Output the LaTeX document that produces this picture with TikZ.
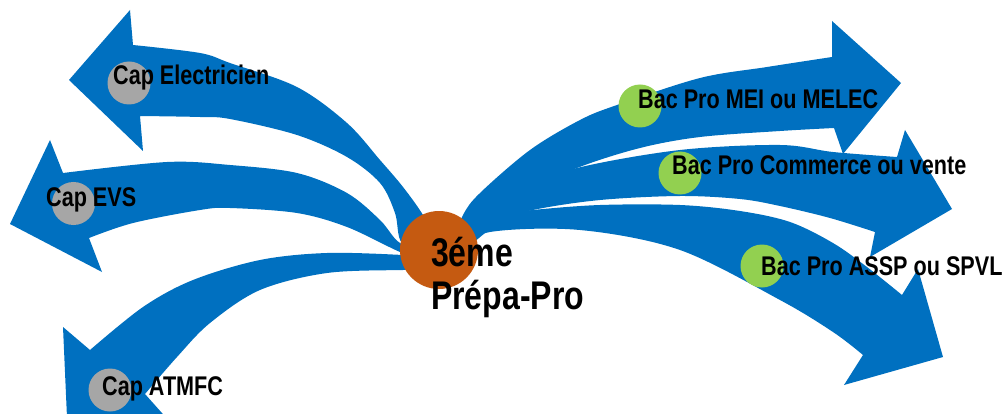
\documentclass[tikz,border=0pt]{standalone}
\usepackage{fontspec}
\newfontfamily\lblfont{Liberation Sans Bold}[FakeStretch=0.80]
\definecolor{arrowblue}{HTML}{0070C0}
\definecolor{capgrey}{HTML}{A6A6A6}
\definecolor{bacgreen}{HTML}{92D050}
\definecolor{centerorange}{HTML}{C55A11}
\begin{document}
\begin{tikzpicture}[x=1pt,y=-1pt,
  arrowshape/.style={fill=arrowblue},
  capdot/.style={circle,fill=capgrey,minimum size=43pt,inner sep=0pt},
  bacdot/.style={circle,fill=bacgreen,minimum size=43pt,inner sep=0pt},
  lbl/.style={anchor=base west,inner sep=0pt,font=\lblfont\fontsize{27}{30}\selectfont},
  biglbl/.style={anchor=base west,inner sep=0pt,font=\lblfont\fontsize{40}{44}\selectfont},
  edge/.style={smooth,tension=0.55}]
\useasboundingbox (0,0) rectangle (1003,414);
\clip (0,0) rectangle (1003,414);
% Arrow 1 : Cap Electricien
\fill[arrowshape] plot[edge] coordinates {(435,240) (423,215) (403,187) (380,160) (347,123) (297,87) (230,63) (200,53) (133,45)}
  -- (130,10) -- (69,80) -- (143,151)
  -- plot[edge] coordinates {(140,116) (200,117) (230,119) (297,135) (347,157) (380,183) (395,213) (402,243) (430,250)} -- cycle;
% Arrow 2 : Cap EVS
\fill[arrowshape] plot[edge] coordinates {(430,252) (400,243) (380,220) (347,193) (297,173) (230,165) (167,162) (63,173)}
  -- (50,140) -- (10,224) -- (102,272)
  -- plot[edge] coordinates {(89,238) (133,223) (200,210) (230,208) (297,213) (347,227) (400,252) (430,262)} -- cycle;
% Arrow 3 : Cap ATMFC
\fill[arrowshape] plot[edge] coordinates {(430,258) (403,255) (327,253) (260,260) (193,280) (143,307) (90,350)}
  -- (63,327) -- (68,440) -- (170,422)
  -- plot[edge] coordinates {(145,394) (177,357) (210,323) (260,290) (327,273) (403,270) (430,270)} -- cycle;
% Arrow 4 : Bac Pro MEI ou MELEC
\fill[arrowshape] plot[edge] coordinates {(452,245) (463,215) (480,193) (530,150) (580,120) (617,105) (700,78) (767,67) (832,57)}
  -- (832,21) -- (901,83) -- (843,154)
  -- plot[edge] coordinates {(834,128) (780,131) (700,137) (640,148) (577,168) (520,195) (465,245)} -- cycle;
% Arrow 5 : Bac Pro Commerce ou vente
\fill[arrowshape] plot[edge] coordinates {(465,240) (520,190) (577,168) (680,150) (780,145) (833,152) (897,157)}
  -- (905,130) -- (952,209) -- (870,257)
  -- plot[edge] coordinates {(875,232) (830,218) (780,206) (740,199) (680,196) (600,200) (533,210) (500,222) (465,250)} -- cycle;
% Arrow 6 : Bac Pro ASSP ou SPVL
\fill[arrowshape] plot[edge] coordinates {(460,240) (500,215) (533,210) (600,205) (680,205) (740,211) (790,222) (833,243) (867,267) (902,295)}
  -- (918,269) -- (943,357) -- (844,385)
  -- plot[edge] coordinates {(863,355) (833,332) (780,300) (680,250) (580,230) (490,232) (460,250)} -- cycle;
% label dots
\node[capdot] (d1) at (129,83) {};
\node[capdot] (d2) at (73.5,203.5) {};
\node[capdot] (d3) at (110,390) {};
\node[bacdot] (d4) at (640,106) {};
\node[bacdot] (d5) at (680,173) {};
\node[bacdot] (d6) at (762,266) {};
% labels
\node[lbl] (t1) at (113,85) {Cap Electricien};
\node[lbl] (t2) at (46,206) {Cap EVS};
\node[lbl] (t3) at (102,395) {Cap ATMFC};
\node[lbl] (t4) at (638,109) {Bac Pro MEI ou MELEC};
\node[lbl] (t5) at (672,175) {Bac Pro Commerce ou vente};
\node[lbl] (t6) at (761,275) {Bac Pro ASSP ou SPVL};
% centre
\node[circle,fill=centerorange,minimum size=78pt,inner sep=0pt] (c) at (439,250) {};
\node[biglbl] (c1) at (431,266) {3éme};
\node[biglbl] (c2) at (431,309) {Prépa-Pro};
\end{tikzpicture}
\end{document}
